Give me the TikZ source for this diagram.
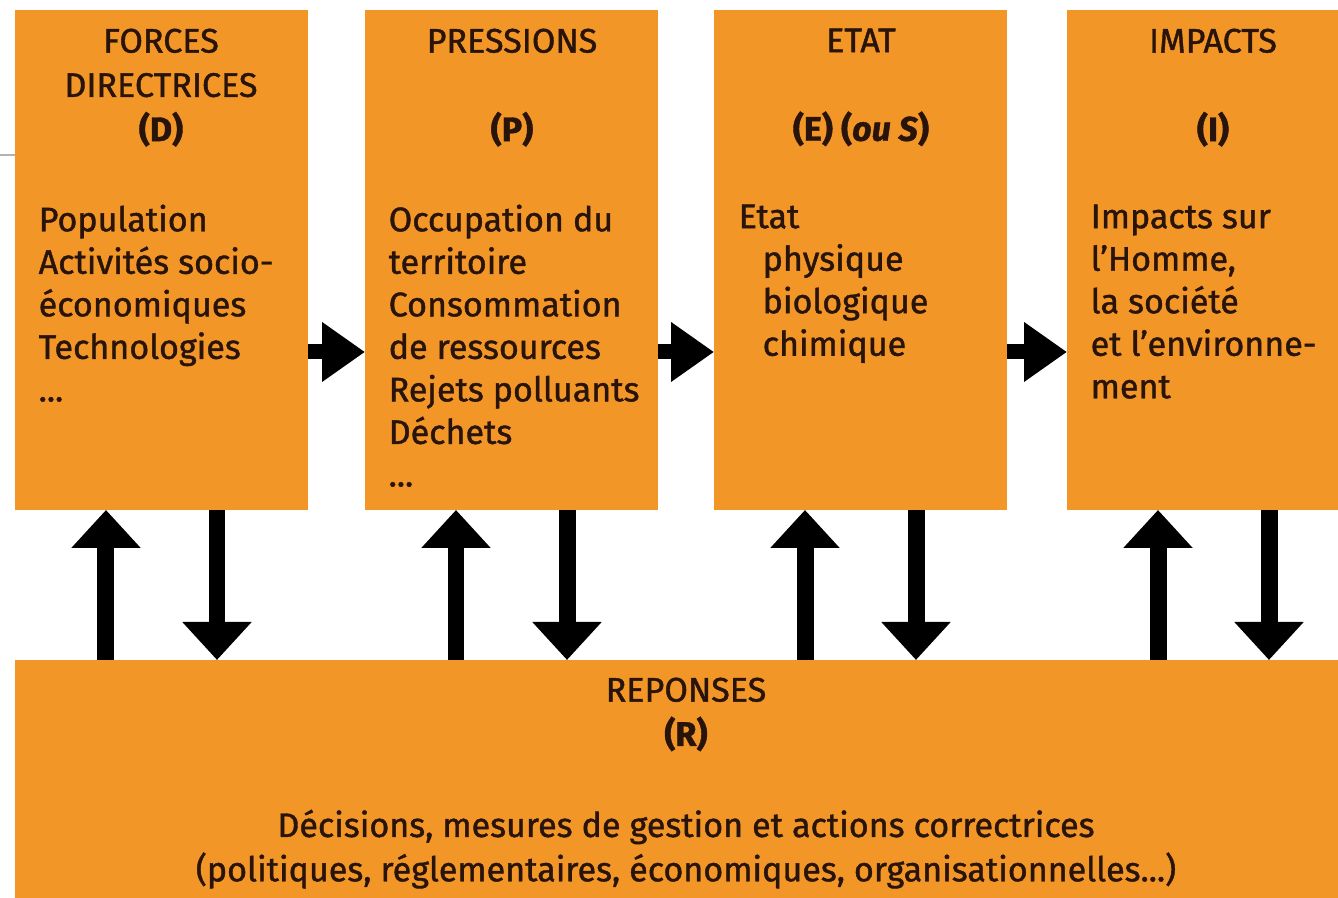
\documentclass[tikz,border=0pt]{standalone}
\usepackage{fontspec}
\setmainfont[FakeBold=1.2]{Fira Sans}
\usetikzlibrary{arrows.meta,positioning}
\definecolor{dpsirorange}{RGB}{243,150,40}
\definecolor{dpsirtexte}{RGB}{40,20,10}
\tikzset{
  bloc/.style={fill=dpsirorange, draw=none, inner sep=0pt, outer sep=0pt,
    anchor=north west, minimum width=2.93cm, minimum height=5cm},
  titre/.style={text=dpsirtexte, align=center, anchor=north, inner sep=0pt,
    font=\fontsize{9.7}{12.6}\selectfont},
  liste/.style={text=dpsirtexte, align=left, anchor=north west, inner sep=0pt,
    font=\fontsize{9.7}{12.1}\selectfont},
  flux/.style={line width=0.15cm, -{Triangle[length=0.43cm,width=0.57cm]}},
  retour/.style={line width=0.17cm, -{Triangle[length=0.38cm,width=0.67cm]}},
}

\begin{document}
\begin{tikzpicture}
  \useasboundingbox[fill=white] (0,0) rectangle (13.38,8.98);
  \clip (0,0) rectangle (13.38,8.98);

  % les quatre blocs du haut
  \node[bloc] (D) at (0.15,8.88) {};
  \node[bloc] (P) at (3.65,8.88) {};
  \node[bloc] (E) at (7.14,8.88) {};
  \node[bloc] (I) at (10.67,8.88) {};
  % bloc des reponses
  \node[bloc, minimum width=13.45cm, minimum height=2.45cm] (R) at (0.15,2.38) {};

  % trait gris a gauche
  \coordinate (trait) at (0,7.43);
  \draw[gray!60, line width=0.6pt] (trait) -- (trait -| D.west);

  % titres
  \node[titre] (tD) at (1.61,8.70) {FORCES\\DIRECTRICES\\\textbf{(D)}};
  \node[titre] (tP) at (5.12,8.70) {PRESSIONS\\\mbox{}\\\textbf{(P)}};
  \node[titre] (tE) at (8.61,8.70) {ETAT\\\mbox{}\\\textbf{(E) (\textit{ou S})}};
  \node[titre] (tI) at (12.13,8.70) {IMPACTS\\\mbox{}\\\textbf{(I)}};

  % contenus
  \node[liste] (lD) at (0.38,6.94) {Population\\Activités socio-\\économiques\\Technologies\\...};
  \node[liste] (lP) at (3.88,6.94) {Occupation du\\territoire\\Consommation\\de ressources\\Rejets polluants\\Déchets\\...};
  \node[liste] (lE) at (7.38,6.94) {Etat\\\hspace{0.24cm}physique\\\hspace{0.24cm}biologique\\\hspace{0.24cm}chimique};
  \node[liste] (lI) at (10.90,6.94) {Impacts sur\\l'Homme,\\la société\\et l'environne-\\ment};

  % reponses
  \node[titre] (tR) at (6.86,2.21) {REPONSES\\\textbf{(R)}};
  \node[titre] (lR) at (6.86,0.89) {Décisions, mesures de gestion et actions correctrices\\(politiques, réglementaires, économiques, organisationnelles...)};

  % fleches entre blocs
  \draw[flux] ([yshift=-0.92cm]D.east) -- ([yshift=-0.92cm]P.west);
  \draw[flux] ([yshift=-0.92cm]P.east) -- ([yshift=-0.92cm]E.west);
  \draw[flux] ([yshift=-0.92cm]E.east) -- ([yshift=-0.92cm]I.west);

  % fleches vers et depuis les reponses
  \foreach \b in {D,P,E,I}{
    \coordinate (\b up) at ([xshift=0.91cm]\b.south west);
    \coordinate (\b dn) at ([xshift=2.02cm]\b.south west);
    \draw[retour] (\b up |- R.north) -- (\b up);
    \draw[retour] (\b dn) -- (\b dn |- R.north);
  }
\end{tikzpicture}
\end{document}
